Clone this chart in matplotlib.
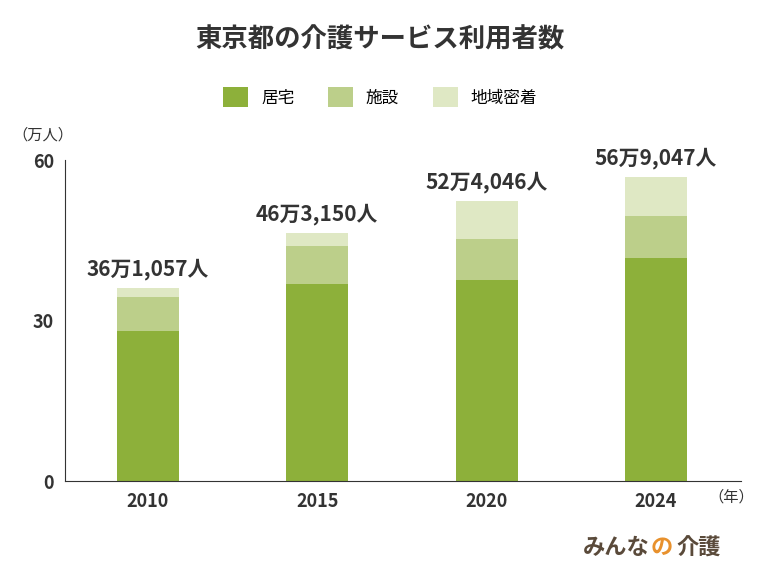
import matplotlib
matplotlib.use("Agg")
import matplotlib.pyplot as plt

plt.rcParams["font.family"] = "Noto Sans CJK JP"

years = ["2010", "2015", "2020", "2024"]
home = [28.0, 36.8, 37.6, 41.7]
facility = [6.4, 7.1, 7.6, 7.8]
community = [1.7, 2.4, 7.2, 7.4]
totals = ["36万1,057人", "46万3,150人", "52万4,046人", "56万9,047人"]
yticks = [0, 30, 60]

fig = plt.figure(figsize=(7.6, 5.7), dpi=100)
ax = fig.add_axes([0.0855, 0.156, 0.889, 0.563])
x = range(len(years))
w = 0.365
ax.bar(x, home, w, color="#8db03a", label="居宅")
ax.bar(x, facility, w, bottom=home, color="#bccf8a", label="施設")
b3 = [h + f for h, f in zip(home, facility)]
ax.bar(x, community, w, bottom=b3, color="#dfe8c4", label="地域密着")
for i, t in enumerate(totals):
    top = b3[i] + community[i]
    ax.text(i, top + 1.5, t, ha="center", va="bottom", fontsize=15, fontweight="bold", color="#333333")

ax.set_xlim(-0.49, 3.5)
ax.set_ylim(0, 60)
ax.set_xticks(list(x))
ax.set_xticklabels(years, fontsize=13, fontweight="bold", color="#333333")
ax.set_yticks(yticks)
ax.set_yticklabels([str(v) for v in yticks], fontsize=13, fontweight="bold", color="#333333")
ax.tick_params(length=0, pad=8)
for s in ["top", "right"]:
    ax.spines[s].set_visible(False)
ax.spines["left"].set_color("#333333")
ax.spines["bottom"].set_color("#333333")

fig.text(0.5, 1 - 40 / 570, "東京都の介護サービス利用者数", ha="center", va="center",
         fontsize=19, fontweight="bold", color="#333333")
fig.legend(loc="center", bbox_to_anchor=(0.5, 1 - 97 / 570), ncol=3, frameon=False,
           fontsize=12, handlelength=1.5, handleheight=1.5, columnspacing=2.0)
fig.text(12 / 760, 1 - 135 / 570, "（万人）", ha="left", va="center", fontsize=11, color="#333333")
fig.text(708 / 760, 1 - 497 / 570, "（年）", ha="left", va="center", fontsize=11, color="#333333")
fig.text(583 / 760, 1 - 548 / 570, "みんな", ha="left", va="center", fontsize=16, fontweight="bold", color="#5a4a3a")
fig.text(651 / 760, 1 - 548 / 570, "の", ha="left", va="center", fontsize=16, fontweight="bold", color="#e8912d")
fig.text(676 / 760, 1 - 548 / 570, "介護", ha="left", va="center", fontsize=16, fontweight="bold", color="#5a4a3a")

fig.savefig("out.png", dpi=100)
